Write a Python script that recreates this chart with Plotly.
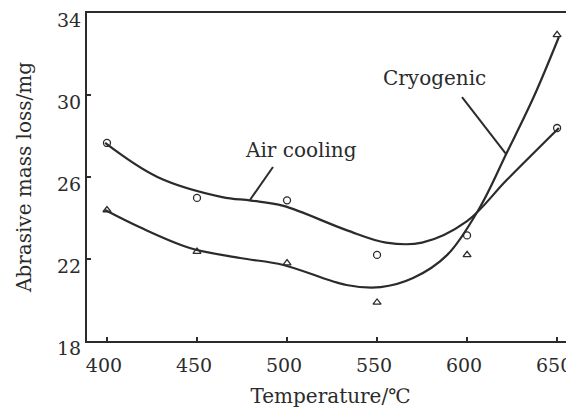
import plotly.graph_objects as go

# Measured points
temps = [400, 450, 500, 550, 600, 650]
air_cooling = [27.66, 24.98, 24.86, 22.2, 23.15, 28.39]
cryogenic = [24.39, 22.36, 21.8, 19.88, 22.2, 32.93]

# Fitted curves
air_fit_x = [399, 428, 464, 480, 498, 533, 555, 575, 600, 622, 651]
air_fit_y = [27.66, 26.0, 25.02, 24.85, 24.59, 23.41, 22.8, 22.8, 23.85, 25.85, 28.39]
cryo_fit_x = [399, 418, 446, 474, 498, 533, 552, 570, 589, 607, 622, 637, 651]
cryo_fit_y = [24.39, 23.56, 22.54, 22.05, 21.71, 20.73, 20.63, 21.07, 22.2, 24.5, 27.17, 29.9, 32.83]

x_ticks = [400, 450, 500, 550, 600, 650]
y_ticks = [18, 22, 26, 30, 34]

ink = "#2b2b2b"
font_fam = "DejaVu Serif, Liberation Serif, serif"

fig = go.Figure()
fig.add_trace(go.Scatter(x=air_fit_x, y=air_fit_y, mode="lines",
                         line=dict(color=ink, width=2.2, shape="spline", smoothing=1.0),
                         showlegend=False, hoverinfo="skip"))
fig.add_trace(go.Scatter(x=cryo_fit_x, y=cryo_fit_y, mode="lines",
                         line=dict(color=ink, width=2.2, shape="spline", smoothing=1.0),
                         showlegend=False, hoverinfo="skip"))
fig.add_trace(go.Scatter(x=temps, y=air_cooling, mode="markers", name="Air cooling",
                         marker=dict(symbol="circle-open", size=7, color=ink, line=dict(width=1.3)),
                         showlegend=False))
fig.add_trace(go.Scatter(x=temps, y=cryogenic, mode="markers", name="Cryogenic",
                         marker=dict(symbol="triangle-up-open", size=7, color=ink, line=dict(width=1.3)),
                         showlegend=False))

# leader lines
fig.add_shape(type="line", x0=492.2, y0=26.49, x1=479.4, y1=24.88, xref="x", yref="y",
              line=dict(color=ink, width=2))
fig.add_shape(type="line", x0=597.2, y0=29.9, x1=621.7, y1=27.12, xref="x", yref="y",
              line=dict(color=ink, width=2))

fig.add_annotation(x=507.8, y=27.3, text="Air cooling", showarrow=False,
                   font=dict(family=font_fam, size=20, color=ink), xref="x", yref="y")
fig.add_annotation(x=582.0, y=30.85, text="Cryogenic", showarrow=False,
                   font=dict(family=font_fam, size=20, color=ink), xref="x", yref="y")

# page body has an 8px margin, so the figure is shrunk and margins offset by 8px
fig.update_layout(
    width=566, height=400,
    margin=dict(l=79, r=0, t=5, b=67),
    paper_bgcolor="white", plot_bgcolor="white",
    font=dict(family=font_fam, size=19, color=ink),
    xaxis=dict(range=[388.9, 659.4], tickvals=x_ticks, showgrid=False, zeroline=False,
               showline=True, linecolor=ink, linewidth=2, mirror=True, automargin=False,
               ticks="inside", ticklen=4, tickcolor=ink, tickwidth=1.5,
               ticklabeloverflow="allow", ticklabelstandoff=6, ticklabelshift=-3,
               title=dict(text="Temperature/℃", font=dict(size=20), standoff=14)),
    yaxis=dict(range=[18, 34], tickvals=y_ticks, showgrid=False, zeroline=False,
               showline=True, linecolor=ink, linewidth=2, mirror=False, automargin=False,
               ticks="inside", ticklen=4, tickcolor=ink, tickwidth=1.5,
               ticklabeloverflow="allow", ticklabelshift=7,
               title=dict(text="Abrasive mass loss/mg", font=dict(size=20), standoff=20)),
)

fig.write_html("out.html")
